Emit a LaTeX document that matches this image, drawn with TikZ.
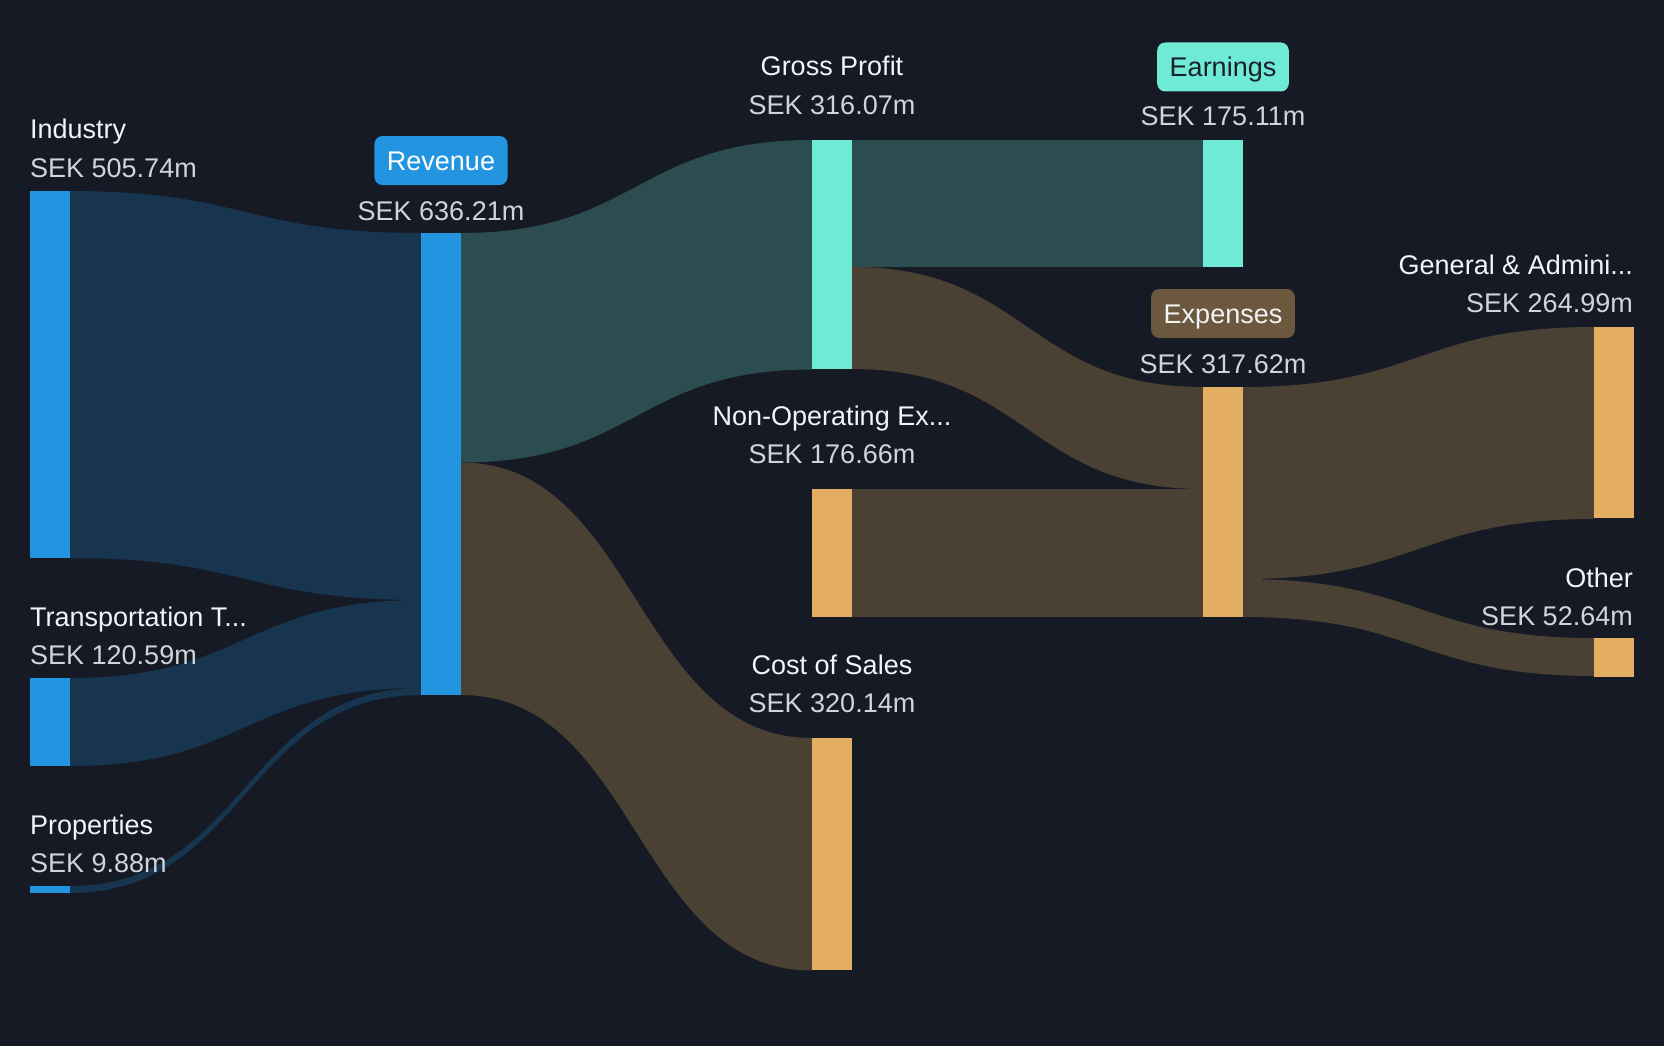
\documentclass[tikz,border=0pt]{standalone}
\usepackage{fontspec}
\setmainfont{Liberation Sans}
\usetikzlibrary{calc}
\definecolor{bgc}{HTML}{151A25}
\definecolor{cblue}{HTML}{2394E0}
\definecolor{fblue}{HTML}{17354F}
\definecolor{cteal}{HTML}{6FEAD5}
\definecolor{fteal}{HTML}{2C4D50}
\definecolor{corange}{HTML}{E4AE62}
\definecolor{fbrown}{HTML}{4A4033}
\definecolor{pillbrown}{HTML}{6B583E}
\definecolor{ttext}{HTML}{F2F4F7}
\definecolor{vtext}{HTML}{D2D4D8}
\definecolor{darktext}{HTML}{1A202B}
\pgfdeclarelayer{bglayer}
\pgfdeclarelayer{flowlayer}
\pgfsetlayers{bglayer,flowlayer,main}
\newcommand\skflow[6]{%
  \fill[#6] let \p1=($(#1.north east)+(0,#2)$), \p2=($(#3.north west)+(0,#4)$),
    \p3=($(\p1)!0.5!(\p2)$) in
    (\x1,\y1) .. controls (\x3,\y1) and (\x3,\y2) .. (\x2,\y2)
    -- (\x2,\y2-#5pt) .. controls (\x3,\y2-#5pt) and (\x3,\y1-#5pt) .. (\x1,\y1-#5pt) -- cycle;}
\begin{document}
\begin{tikzpicture}[x=1pt,y=-1pt,
  bar/.style={rectangle,draw=none,inner sep=0pt,outer sep=0pt,minimum width=40pt,anchor=north west},
  lbl/.style={inner sep=0pt,font=\fontsize{27pt}{32pt}\selectfont},
  ttl/.style={lbl,text=ttext},
  val/.style={lbl,text=vtext},
  pill/.style={rectangle,rounded corners=8pt,minimum height=49pt,inner xsep=12.5pt,inner ysep=0pt,
    text height=19.5pt,text depth=0pt,font=\fontsize{27pt}{32pt}\selectfont}]
\begin{pgfonlayer}{bglayer}
\fill[bgc] (0,0) rectangle (1664,1046);
\end{pgfonlayer}
\useasboundingbox (0,0) rectangle (1664,1046);
% bars
\node[bar,fill=cblue,minimum height=367pt] (ind) at (30,191) {};
\node[bar,fill=cblue,minimum height=88pt] (tra) at (30,678) {};
\node[bar,fill=cblue,minimum height=7pt] (pro) at (30,886) {};
\node[bar,fill=cblue,minimum height=462pt] (rev) at (421,233) {};
\node[bar,fill=cteal,minimum height=229pt] (gp) at (812,140) {};
\node[bar,fill=corange,minimum height=128pt] (nop) at (812,489) {};
\node[bar,fill=corange,minimum height=232pt] (cos) at (812,738) {};
\node[bar,fill=cteal,minimum height=127pt] (ear) at (1203,140) {};
\node[bar,fill=corange,minimum height=230pt] (exp) at (1203,387) {};
\node[bar,fill=corange,minimum height=191pt] (gna) at (1594,327) {};
\node[bar,fill=corange,minimum height=39pt] (oth) at (1594,638) {};
% flows
\begin{pgfonlayer}{flowlayer}
\skflow{ind}{0}{rev}{0}{367}{fblue}
\skflow{tra}{0}{rev}{367}{88}{fblue}
\skflow{pro}{0}{rev}{455}{7}{fblue}
\skflow{rev}{0}{gp}{0}{229.5}{fteal}
\skflow{rev}{229.5}{cos}{0}{232.5}{fbrown}
\skflow{gp}{0}{ear}{0}{127}{fteal}
\skflow{gp}{127}{exp}{0}{102}{fbrown}
\skflow{nop}{0}{exp}{102}{128}{fbrown}
\skflow{exp}{0}{gna}{0}{192}{fbrown}
\skflow{exp}{192}{oth}{0}{38}{fbrown}
\end{pgfonlayer}
% labels
\node[ttl,anchor=base west] (indT) at (30,139) {Industry};
\node[val,anchor=base west] (indV) at (30,177) {SEK 505.74m};
\node[ttl,anchor=base west] (traT) at (30,626) {Transportation T...};
\node[val,anchor=base west] (traV) at (30,664) {SEK 120.59m};
\node[ttl,anchor=base west] (proT) at (30,834) {Properties};
\node[val,anchor=base west] (proV) at (30,872) {SEK 9.88m};
\node[pill,fill=cblue,text=white] (revT) at (441,160.5) {Revenue};
\node[val,anchor=base] (revV) at (441,220) {SEK 636.21m};
\node[ttl,anchor=base] (gpT) at (832,76) {Gross Profit};
\node[val,anchor=base] (gpV) at (832,114) {SEK 316.07m};
\node[ttl,anchor=base] (nopT) at (832,425) {Non-Operating Ex...};
\node[val,anchor=base] (nopV) at (832,463) {SEK 176.66m};
\node[ttl,anchor=base] (cosT) at (832,674) {Cost of Sales};
\node[val,anchor=base] (cosV) at (832,712) {SEK 320.14m};
\node[pill,fill=cteal,text=darktext] (earT) at (1223,67) {Earnings};
\node[val,anchor=base] (earV) at (1223,126) {SEK 175.11m};
\node[pill,fill=pillbrown,text=ttext] (expT) at (1223,313.5) {Expenses};
\node[val,anchor=base] (expV) at (1223,373) {SEK 317.62m};
\node[ttl,anchor=base east] (gnaT) at (1633,274) {General \& Admini...};
\node[val,anchor=base east] (gnaV) at (1633,312) {SEK 264.99m};
\node[ttl,anchor=base east] (othT) at (1633,587) {Other};
\node[val,anchor=base east] (othV) at (1633,625) {SEK 52.64m};
\end{tikzpicture}
\end{document}
